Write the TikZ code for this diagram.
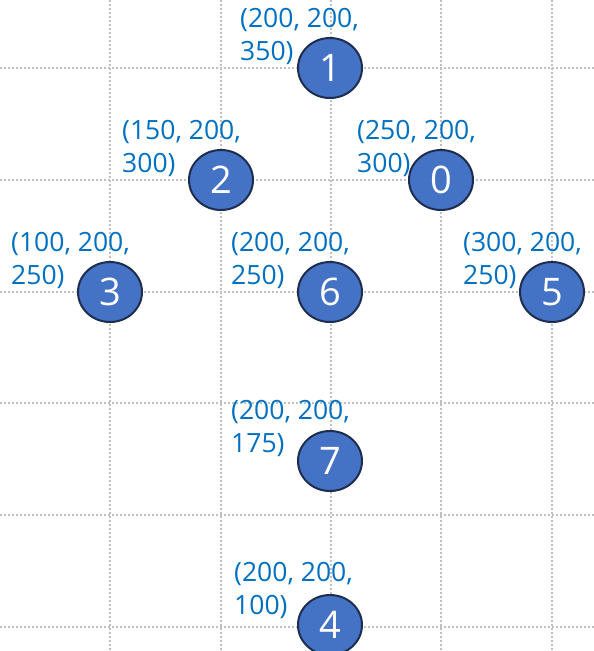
\documentclass[tikz,border=0pt]{standalone}
\usepackage{fontspec}
\setmainfont{Open Sans}
\usepackage{tikz}
\usetikzlibrary{shapes.geometric}
\usepackage{xcolor}
\definecolor{nodefill}{RGB}{68,114,196}
\definecolor{nodeline}{RGB}{30,44,78}
\definecolor{labelblue}{RGB}{0,112,192}
\definecolor{gridgray}{RGB}{192,192,192}

\begin{document}
\begin{tikzpicture}[x=1pt, y=-1pt,
    gridline/.style={draw=gridgray, line width=2.2pt, dash pattern=on 2.4pt off 1.6pt},
    vertex/.style={ellipse, fill=nodefill, draw=nodeline, line width=2pt,
      minimum width=64pt, minimum height=60pt, inner sep=0pt,
      text=white, font=\fontsize{38}{38}\selectfont},
    coordlabel/.style={anchor=north west, inner sep=0pt, align=left,
      text=labelblue, font=\fontsize{26.5}{33}\selectfont}]
    \useasboundingbox[fill=white] (0,0) rectangle (594,651);
    % grid
    \foreach \gx in {110,221,331,441,552}
      \draw[gridline] (\gx,0) -- (\gx,651);
    \foreach \gy in {68,180,292,403,515,627}
      \draw[gridline] (0,\gy) -- (594,\gy);
    % labels
    \node[coordlabel] (l1) at (240,8)   {(200, 200,\\350)};
    \node[coordlabel] (l2) at (122,120) {(150, 200,\\300)};
    \node[coordlabel] (l0) at (357,120) {(250, 200,\\300)};
    \node[coordlabel] (l3) at (11,232)  {(100, 200,\\250)};
    \node[coordlabel] (l6) at (231,232) {(200, 200,\\250)};
    \node[coordlabel] (l5) at (463,232) {(300, 200,\\250)};
    \node[coordlabel] (l7) at (231,400) {(200, 200,\\175)};
    \node[coordlabel] (l4) at (234,562) {(200, 200,\\100)};
    % nodes
    \node[vertex] (n1) at (330,68)  {1};
    \node[vertex] (n2) at (221,180) {2};
    \node[vertex] (n0) at (441,180) {0};
    \node[vertex] (n3) at (110,292) {3};
    \node[vertex] (n6) at (330,292) {6};
    \node[vertex] (n5) at (552,292) {5};
    \node[vertex] (n7) at (330,461) {7};
    \node[vertex] (n4) at (330,625) {4};
\end{tikzpicture}
\end{document}
